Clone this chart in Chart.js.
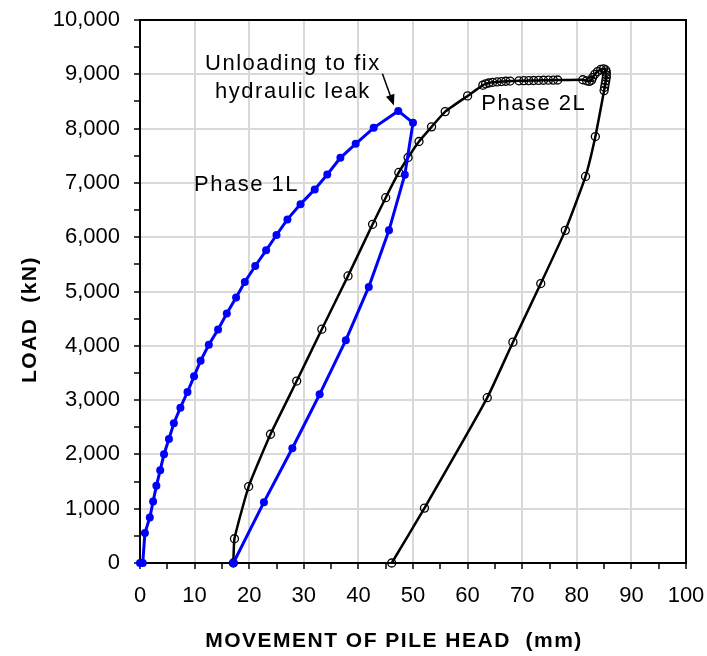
<!DOCTYPE html>
<html>
<head>
<meta charset="utf-8">
<script src="https://cdn.jsdelivr.net/npm/chart.js@4.4.1/dist/chart.umd.min.js"></script>
<style>
  body { margin: 0; background: #fff; }
  #wrap { position: relative; width: 707px; height: 656px; }
</style>
</head>
<body>
<div id="wrap"><canvas id="chart" width="707" height="656"></canvas></div>
<script>
// Phase 1L - movement (mm) / load (kN)
const phase1Move = [0, 0.5, 0.9, 1.8, 2.4, 3.0, 3.7, 4.4, 5.3, 6.2, 7.4, 8.7, 9.9, 11.1, 12.6, 14.3, 15.9, 17.6, 19.2,
  21.1, 23.1, 25.0, 27.0, 29.4, 32.0, 34.3, 36.7, 39.5, 42.8, 47.3, 50.0, 48.5, 45.6, 41.9, 37.7, 32.9, 27.9, 22.7, 17.1];
const phase1Load = [0, 0, 551, 838, 1132, 1421, 1709, 2003, 2285, 2573, 2860, 3149, 3437, 3724, 4018, 4301, 4595, 4889, 5176,
  5470, 5759, 6040, 6328, 6609, 6880, 7155, 7462, 7720, 8014, 8326, 8106, 7150, 6126, 5084, 4104, 3106, 2114, 1121, 0];

// Phase 2L
const phase2Move = [17.1, 17.3, 19.9, 23.9, 28.7, 33.3, 38.1, 42.6, 45.0, 47.4, 49.1, 51.1, 53.4, 55.9, 60.0,
  62.8, 63.3, 63.9, 64.6, 65.4, 66.2, 67.0, 67.8, 69.4, 70.3, 71.2, 72.1, 73.0, 73.9, 74.8, 75.7, 76.5,
  81.1, 81.8, 82.3, 82.7, 82.9, 83.3, 83.8, 84.4, 84.9, 85.3, 85.4, 85.4, 85.4, 85.3, 85.2, 85.1, 85.0,
  83.4, 81.6, 77.9, 73.4, 68.3, 63.6, 52.1, 46.1];
const phase2Load = [0, 447, 1408, 2371, 3351, 4306, 5287, 6237, 6727, 7192, 7468, 7762, 8032, 8313, 8602,
  8800, 8825, 8840, 8852, 8860, 8866, 8872, 8876, 8880, 8882, 8884, 8886, 8888, 8890, 8892, 8893, 8895,
  8900, 8880, 8870, 8890, 8940, 9000, 9050, 9090, 9100, 9080, 9040, 8990, 8940, 8880, 8820, 8760, 8700,
  7854, 7119, 6126, 5146, 4067, 3044, 1011, 0];

const xTitle = 'MOVEMENT OF PILE HEAD  (mm)';
const yTitle = 'LOAD  (kN)';

// text notes, placed in data units
const notes = [
  { text: 'Unloading to fix', x: 28.0, y: 9196, align: 'center' },
  { text: 'hydraulic leak', x: 28.0, y: 8681, align: 'center' },
  { text: 'Phase 1L', x: 9.9, y: 6954, align: 'left' },
  { text: 'Phase 2L', x: 62.5, y: 8459, align: 'left' }
];
const arrow = { from: [44.4, 9012], to: [46.5, 8424] };

const FONT = '"Liberation Sans", Arial, sans-serif';

const toPts = (xs, ys) => xs.map((v, i) => ({ x: v, y: ys[i] }));

const extras = {
  id: 'extras',
  beforeDatasetsDraw(chart) {
    const { ctx, chartArea: a } = chart;
    ctx.save();
    ctx.strokeStyle = '#000';
    ctx.lineWidth = 2;
    ctx.strokeRect(a.left, a.top, a.right - a.left, a.bottom - a.top);
    ctx.restore();
  },
  afterDatasetsDraw(chart) {
    const { ctx, chartArea: a, scales: { x, y } } = chart;
    ctx.save();
    ctx.fillStyle = '#000';
    ctx.font = '22px ' + FONT;
    ctx.letterSpacing = '1.5px';
    ctx.textBaseline = 'middle';
    notes.forEach(n => {
      ctx.textAlign = n.align;
      ctx.fillText(n.text, x.getPixelForValue(n.x), y.getPixelForValue(n.y));
    });

    // arrow
    const x1 = x.getPixelForValue(arrow.from[0]), y1 = y.getPixelForValue(arrow.from[1]);
    const x2 = x.getPixelForValue(arrow.to[0]), y2 = y.getPixelForValue(arrow.to[1]);
    const ang = Math.atan2(y2 - y1, x2 - x1);
    ctx.strokeStyle = '#000';
    ctx.lineWidth = 1.5;
    ctx.beginPath();
    ctx.moveTo(x1, y1);
    ctx.lineTo(x2 - 8 * Math.cos(ang), y2 - 8 * Math.sin(ang));
    ctx.stroke();
    ctx.beginPath();
    ctx.moveTo(x2, y2);
    ctx.lineTo(x2 - 11 * Math.cos(ang) + 4.5 * Math.sin(ang), y2 - 11 * Math.sin(ang) - 4.5 * Math.cos(ang));
    ctx.lineTo(x2 - 11 * Math.cos(ang) - 4.5 * Math.sin(ang), y2 - 11 * Math.sin(ang) + 4.5 * Math.cos(ang));
    ctx.closePath();
    ctx.fill();

    // axis titles
    ctx.font = 'bold 21px ' + FONT;
    ctx.textAlign = 'center';
    ctx.fillText(xTitle, 394, 641);
    ctx.translate(30, (a.top + a.bottom) / 2 + 28);
    ctx.rotate(-Math.PI / 2);
    ctx.fillText(yTitle, 0, 0);
    ctx.letterSpacing = '0px';
    ctx.restore();
  }
};

new Chart(document.getElementById('chart'), {
  type: 'scatter',
  data: {
    datasets: [
      {
        label: 'Phase 1L',
        data: toPts(phase1Move, phase1Load),
        showLine: true,
        borderColor: '#0000ff',
        backgroundColor: '#0000ff',
        borderWidth: 3,
        pointRadius: 4,
        pointBorderWidth: 0,
        tension: 0,
        clip: false
      },
      {
        label: 'Phase 2L',
        data: toPts(phase2Move, phase2Load),
        showLine: true,
        borderColor: '#000',
        backgroundColor: '#000',
        borderWidth: 2.5,
        pointRadius: 4,
        pointBorderWidth: 1.3,
        pointBackgroundColor: 'rgba(0,0,0,0)',
        pointBorderColor: '#000',
        tension: 0.15,
        clip: false
      }
    ]
  },
  options: {
    responsive: false,
    animation: false,
    devicePixelRatio: 1,
    layout: { padding: { top: 20, right: 21, left: 0, bottom: 0 } },
    plugins: {
      legend: { display: false },
      tooltip: { enabled: false }
    },
    scales: {
      x: {
        type: 'linear',
        min: 0,
        max: 100,
        afterFit: s => { s.height = 93; s.paddingLeft = 0; s.paddingRight = 0; },
        ticks: {
          stepSize: 5,
          autoSkip: false,
          maxRotation: 0,
          padding: 14,
          color: '#000',
          font: { family: FONT, size: 22 },
          callback: v => (v % 10 === 0 ? v : '')
        },
        grid: {
          color: c => (c.tick && c.tick.value % 10 === 0 ? '#d9d9d9' : 'rgba(0,0,0,0)'),
          lineWidth: 2,
          tickColor: '#000',
          tickLength: 6,
          tickWidth: 1.5
        },
        border: { display: true, color: '#000', width: 2 }
      },
      y: {
        type: 'linear',
        min: 0,
        max: 10000,
        afterFit: s => { s.width = 140; s.paddingTop = 0; s.paddingBottom = 0; },
        ticks: {
          stepSize: 500,
          autoSkip: false,
          padding: 14,
          color: '#000',
          font: { family: FONT, size: 22 },
          callback: v => (v % 1000 === 0 ? v.toLocaleString('en-US') : '')
        },
        grid: {
          color: c => (c.tick && c.tick.value % 1000 === 0 ? '#d9d9d9' : 'rgba(0,0,0,0)'),
          lineWidth: 2,
          tickColor: '#000',
          tickLength: 6,
          tickWidth: 1.5
        },
        border: { display: true, color: '#000', width: 2 }
      }
    }
  },
  plugins: [extras]
});
</script>
</body>
</html>
